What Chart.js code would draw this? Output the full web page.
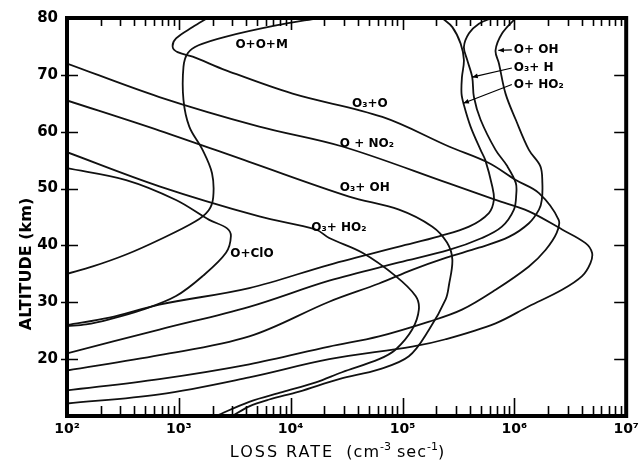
<!DOCTYPE html>
<html>
<head>
<meta charset="utf-8">
<script src="https://cdn.jsdelivr.net/npm/chart.js@4/dist/chart.umd.min.js"></script>
<style>
html,body{margin:0;padding:0;background:#fff}
</style>
</head>
<body>
<canvas id="chart" width="644" height="465"></canvas>
<script>
// axis ticks
const xTicks=[1e2,1e3,1e4,1e5,1e6,1e7];
const xTickLabels=["10²","10³","10⁴","10⁵","10⁶","10⁷"];
const yTicks=[20,30,40,50,60,70,80];

// curves (loss rate cm-3 s-1 vs altitude km)
const rateOOM=[1.8e4,7.4e3,2.6e3,1.5e3,1.2e3,1.1e3,1.1e3,1.24e3,1.63e3,1.98e3,2.03e3,1.85e3,1.4e3,670,338,170,100];
const altOOM =[80,78.7,76.7,75.2,73.8,71.4,65.6,60.9,56.8,52.7,48.5,46.2,44.2,41,38.4,36.3,35];

const rateO3O=[1.81e3,1.33e3,944,881,975,1.33e3,2.64e3,1.04e4,6.6e4,2.6e5,5.92e5,1.03e6,1.66e6,2.49e6,2.39e6,1.9e6,1.35e6,6.8e5,3.4e5,1.73e5,6.17e4,2.21e4,4.26e3,670,100];
const altO3O =[80,78.4,76.4,74.9,74,73.2,70.8,66.7,62.6,57.4,54.5,51.5,49.2,44.5,42.2,39.2,36.3,32.2,28.7,26.6,24,22.2,19.1,16.5,14.5];

const rateONO2=[100,670,5.24e3,2.9e4,2.6e5,6.8e5,1.35e6,2.67e6,4.33e6,4.95e6,4.79e6,4.03e6,2.67e6,1.35e6,6.8e5,2.43e5,1.22e5,2.21e4,4.26e3,670,100];
const altONO2 =[72,66.1,60.9,57.4,50.9,48,46,42.8,40.4,38.7,36.9,34.6,32.2,29.3,26.3,23.5,22.2,20,16.8,13.8,12.2];

const rateO3OH=[100,670,4.26e3,3.33e4,9.31e4,1.85e5,2.5e5,2.79e5,2.6e5,2.43e5,1.73e5,1.14e5,6.17e4,2.71e4,1.19e4,6.43e3,4.26e3,3.01e3];
const altO3OH =[65.5,60.2,54.7,48.6,46.3,43.3,40.5,37.5,33,30.5,25.2,20.5,18.2,16.5,14.3,12.9,11.7,10];

const rateO3HO2=[100,670,5.24e3,1.68e4,2.21e4,4.38e4,8.69e4,1.31e5,1.4e5,1.22e5,8.69e4,6.17e4,2.88e4,1.68e4,8.4e3,4.26e3,2.15e3];
const altO3HO2 =[56.4,50.4,45.1,42.8,41.3,38.7,34.6,31.1,28.7,25.2,21.7,20,17.7,15.9,14.2,12.5,10];

const rateOClO=[100,338,944,1.87e3,2.7e3,2.92e3,2.64e3,1.63e3,944,475,239,148,100];
const altOClO =[53.6,51.5,48,44.5,43,41.6,38.7,34.6,31.1,28.7,27,26.1,25.8];

const rateOOH=[1.03e6,7.78e5,6.79e5,7.28e5,8.34e5,1.03e6,1.35e6,1.71e6,1.78e6,1.76e6,1.66e6,1.35e6,8.93e5,4.82e5,2.43e5,1.22e5,6.17e4,2.21e4,4.26e3,670,100];
const altOOH =[80,77.3,74.3,72,66.7,62.1,56.8,53.9,51,48,46.3,43.9,41.5,39.6,37.8,35.7,33.3,30.1,24,20.7,18];

const rateO3H=[6.34e5,4.82e5,3.93e5,3.54e5,3.79e5,4.2e5,4.35e5,4.99e5,6.79e5,8.6e5,1.03e6,1.04e6,9.91e5,7.74e5,5.13e5,2.6e5,9.31e4,2.21e4,4.26e3,670,100];
const altO3H =[80,79,77.3,74.9,72.6,69.6,66.1,62.1,56.8,54,51,49,46.3,43.3,41.3,39.2,37,33.8,29.2,25.2,21];

const rateOHO2=[2.26e5,2.79e5,3.31e5,3.54e5,3.4e5,3.37e5,3.54e5,4.06e5,4.99e5,5.5e5,6.34e5,6.56e5,5.92e5,3.93e5,2.12e5,9.31e4,2.21e4,4.26e3,670,239,100];
const altOHO2 =[80,78.4,75.5,72.6,69.6,66.7,64.7,60.9,56.8,55,50.4,48,45.7,43.3,41.6,39.8,36.6,32.5,29.6,27.3,26];

// curve labels placed in the plot
const labelText=["O+O+M","O₃+O","O + NO₂","O₃+ OH","O₃+ HO₂","O+ClO","O+ OH","O₃+ H","O+ HO₂"];
const labelRate=[5.5e3,5.1e4,4.8e4,4.6e4,2.7e4,4.5e3,9.9e5,9.9e5,9.9e5];
const labelAlt =[75.2,64.9,57.9,50.1,43.1,38.5,74.4,71.2,68.3];
const labelAlign=["center","center","center","center","center","center","left","left","left"];

// arrows from the three right-hand labels to their curves
const arrowFromRate=[9.5e5,9.5e5,9.5e5];
const arrowFromAlt =[74.4,71.2,68.3];
const arrowToRate  =[7.2e5,4.2e5,3.5e5];
const arrowToAlt   =[74.3,69.6,65];

const curves=[
 [rateOOM,altOOM],[rateO3O,altO3O],[rateONO2,altONO2],[rateO3OH,altO3OH],[rateO3HO2,altO3HO2],
 [rateOClO,altOClO],[rateOOH,altOOH],[rateO3H,altO3H],[rateOHO2,altOHO2]
];

const FONT='"DejaVu Sans"';

// draws text pieces left to right, pieces with dy are smaller and raised
function drawPieces(ctx,pieces,cx,by){
 let total=0;
 pieces.forEach(p=>{ctx.font=p.font;ctx.letterSpacing=p.ls;p.w=ctx.measureText(p.t).width;total+=p.w;});
 let xx=cx-total/2;
 ctx.textAlign='left';
 pieces.forEach(p=>{ctx.font=p.font;ctx.letterSpacing=p.ls;ctx.fillText(p.t,xx,by+(p.dy||0));xx+=p.w;});
 ctx.letterSpacing='0px';
}

const decor={
 id:'decor',
 afterDatasetsDraw(chart){
  const {ctx,chartArea:a,scales}=chart;
  const x=scales.x,y=scales.y;
  ctx.save();
  ctx.strokeStyle='#000';ctx.fillStyle='#000';
  // tick marks pointing into the plot
  ctx.lineWidth=1.6;
  ctx.beginPath();
  for(let n=2;n<7;n++){
   for(let m=1;m<10;m++){
    if(n===2&&m===1) continue;
    const px=Math.round(x.getPixelForValue(m*Math.pow(10,n)))+0.5;
    ctx.moveTo(px,a.bottom);ctx.lineTo(px,a.bottom-(m===1?18:10));
    ctx.moveTo(px,a.top);ctx.lineTo(px,a.top+(m===1?12:8));
   }
  }
  yTicks.forEach(v=>{
   if(v===80) return;
   const py=Math.round(y.getPixelForValue(v))+0.5;
   ctx.moveTo(a.left-6,py);ctx.lineTo(a.left+11,py);
   ctx.moveTo(a.right,py);ctx.lineTo(a.right-12,py);
  });
  ctx.stroke();
  // frame
  ctx.lineWidth=4;
  ctx.strokeRect(a.left,a.top,a.right-a.left,a.bottom-a.top);

  // curve labels
  ctx.font='bold 12px '+FONT;
  ctx.textBaseline='middle';
  labelText.forEach((t,i)=>{
   ctx.textAlign=labelAlign[i];
   ctx.fillText(t,x.getPixelForValue(labelRate[i]),y.getPixelForValue(labelAlt[i]));
  });

  // arrows
  ctx.lineWidth=1.2;
  arrowFromRate.forEach((r,i)=>{
   const x0=x.getPixelForValue(r),y0=y.getPixelForValue(arrowFromAlt[i]);
   const x1=x.getPixelForValue(arrowToRate[i]),y1=y.getPixelForValue(arrowToAlt[i]);
   ctx.beginPath();ctx.moveTo(x0,y0);ctx.lineTo(x1,y1);ctx.stroke();
   const ang=Math.atan2(y1-y0,x1-x0);
   ctx.beginPath();
   ctx.moveTo(x1,y1);
   ctx.lineTo(x1-6*Math.cos(ang-0.4),y1-6*Math.sin(ang-0.4));
   ctx.lineTo(x1-6*Math.cos(ang+0.4),y1-6*Math.sin(ang+0.4));
   ctx.closePath();ctx.fill();
  });

  // axis titles
  ctx.textBaseline='alphabetic';
  const big='16px '+FONT,sup='11px '+FONT;
  drawPieces(ctx,[
   {t:'LOSS RATE',font:big,ls:'2px'},
   {t:'  (cm',font:big,ls:'1px'},
   {t:'-3',font:sup,ls:'0px',dy:-7},
   {t:' sec',font:big,ls:'1px'},
   {t:'-1',font:sup,ls:'0px',dy:-7},
   {t:')',font:big,ls:'0px'}
  ],337,457);
  ctx.save();
  ctx.translate(31,264);
  ctx.rotate(-Math.PI/2);
  ctx.textAlign='center';
  ctx.font='bold 16px '+FONT;
  ctx.fillText('ALTITUDE (km)',0,0);
  ctx.restore();
  ctx.restore();
 }
};

new Chart(document.getElementById('chart'),{
 type:'scatter',
 data:{
  datasets:curves.map(c=>({
   data:c[0].map((r,i)=>({x:r,y:c[1][i]})),
   showLine:true,
   borderColor:'#111',
   borderWidth:1.8,
   pointRadius:0,
   tension:0.35,
   fill:false
  }))
 },
 options:{
  responsive:false,
  devicePixelRatio:1,
  animation:false,
  layout:{padding:{top:18,right:17,left:0,bottom:0}},
  plugins:{legend:{display:false},tooltip:{enabled:false}},
  scales:{
   x:{
    type:'logarithmic',min:1e2,max:1e7,
    afterBuildTicks:s=>{s.ticks=xTicks.map(v=>({value:v}));},
    afterFit:s=>{s.height=49;},
    grid:{display:false,drawTicks:false},
    border:{display:false},
    ticks:{
     callback:(v,i)=>xTickLabels[i],
     color:'#000',padding:5,maxRotation:0,autoSkip:false,
     font:{family:'DejaVu Sans',weight:'bold',size:14}
    }
   },
   y:{
    type:'linear',min:10,max:80,
    afterBuildTicks:s=>{s.ticks=yTicks.map(v=>({value:v}));},
    afterFit:s=>{s.width=67;},
    grid:{display:false,drawTicks:false},
    border:{display:false},
    ticks:{
     callback:v=>String(v),
     color:'#000',padding:9,
     font:{family:'DejaVu Sans',weight:'bold',size:15}
    }
   }
  }
 },
 plugins:[decor]
});
</script>
</body>
</html>
